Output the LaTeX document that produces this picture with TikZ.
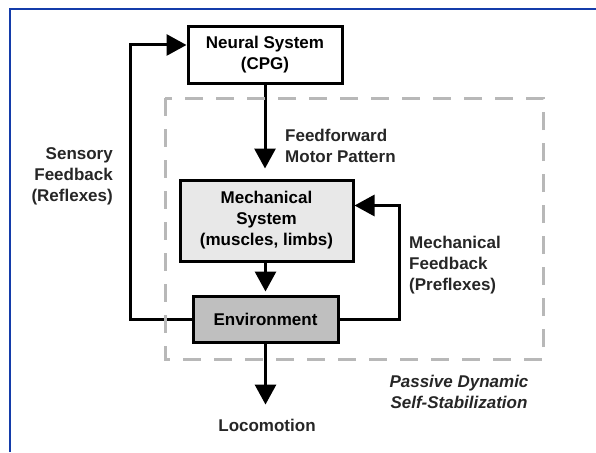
\documentclass[tikz,border=0pt]{standalone}
\usepackage{fontspec}
\setmainfont{Liberation Sans}
\usepackage{xcolor}
\usetikzlibrary{arrows.meta,positioning,calc}

\definecolor{frameblue}{RGB}{20,60,170}

\begin{document}
\begin{tikzpicture}[x=1pt,y=-1pt,
    font=\fontsize{17}{21}\selectfont\bfseries,
    blk/.style={draw, line width=3pt, align=center, inner sep=0pt},
    flow/.style={line width=3pt, -{Triangle[length=20pt,width=21pt]}},
    lbl/.style={inner sep=0pt, text=black!85}]
  \useasboundingbox (0,0) rectangle (596,452);

  % Frame
  \draw[line width=2pt, frameblue] (10,452) -- (10,9) -- (596,9);

  % Blocks
  \node[blk, minimum width=154pt, minimum height=56pt] (neural) at (265,55)
    {Neural System\\(CPG)};
  \node[blk, fill=black!9, minimum width=173pt, minimum height=81pt] (mech) at (266.5,220.5)
    {Mechanical\\System\\(muscles, limbs)};
  \node[blk, fill=black!25, minimum width=145pt, minimum height=46pt] (env) at (265.5,319)
    {Environment};
  \node[lbl] (loco) at (267,425) {Locomotion};

  % Labels
  \node[lbl, anchor=west, align=left] (ffwd) at (285,146) {Feedforward\\Motor Pattern};
  \node[lbl, anchor=east, align=right] (sensfb) at (113,176) {Sensory\\Feedback\\(Reflexes)};
  \node[lbl, anchor=west, align=left] (mechfb) at (409,265) {Mechanical\\Feedback\\(Preflexes)};
  \node[lbl, align=center, font=\fontsize{17}{21}\selectfont\bfseries\itshape] (passive) at (459,392)
    {Passive Dynamic\\Self-Stabilization};

  % Feedforward path
  \coordinate (sensx) at (130,0);
  \coordinate (mechx) at (399,0);
  \draw[flow, shorten >=10pt] (neural.south) -- (neural.south |- mech.north);
  \draw[flow, shorten >=3pt] (mech.south -| env.north) -- (env.north);
  \draw[flow, shorten >=14pt] (env.south) -- (env.south |- loco.north);

  % Feedback loops
  \draw[flow] (env.west) -- (env.west -| sensx) |- ([yshift=10pt]neural.west);
  \draw[flow] (env.east) -- (env.east -| mechx) |- ([yshift=15pt]mech.east);

  % Passive dynamic region
  \draw[line width=3pt, black!28, dash pattern=on 18pt off 13pt] (165,98) rectangle (543,359);

\end{tikzpicture}
\end{document}
